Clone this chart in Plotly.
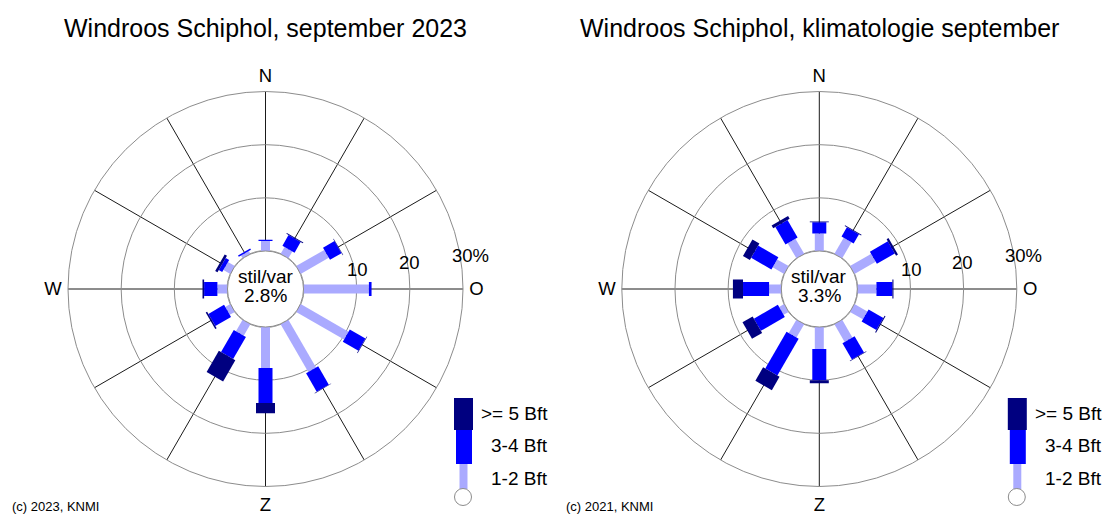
import plotly.graph_objects as go

# ---------------- data ----------------
directions = [0, 30, 60, 90, 120, 150, 180, 210, 240, 270, 300, 330]
compass_labels = ["N", "", "", "O", "", "", "Z", "", "", "W", "", ""]
ring_values = [0, 10, 20, 30]
ring_labels = ["10", "20", "30%"]

# september 2023 (percent of time)
sep2023_bft12 = [1.9, 1.5, 6.1, 12.3, 10.4, 10.4, 7.7, 2.5, 1.1, 1.9, 1.5, 0.6]
sep2023_bft34 = [0.2, 2.3, 2.5, 0.5, 3.4, 4.0, 6.6, 4.8, 3.4, 2.5, 0.75, 0.3]
sep2023_bft5 = [0.0, 0.2, 0.1, 0.0, 0.1, 0.1, 1.9, 4.6, 0.3, 0.3, 0.5, 0.0]
sep2023_calm = 2.8

# climatology september
clim_bft12 = [3.3, 3.5, 4.6, 3.6, 2.8, 3.85, 4.15, 2.9, 1.1, 2.3, 2.5, 3.3]
clim_bft34 = [2.1, 2.0, 3.9, 3.0, 3.2, 3.55, 5.85, 8.0, 5.2, 4.9, 4.4, 3.8]
clim_bft5 = [0.15, 0.15, 0.4, 0.2, 0.2, 0.1, 0.6, 2.9, 2.2, 1.9, 1.5, 0.6]
clim_calm = 3.3

titles = ["Windroos Schiphol, september 2023", "Windroos Schiphol, klimatologie september"]
copyrights = ["(c) 2023, KNMI", "(c) 2021, KNMI"]
class_labels = [">= 5 Bft", "3-4 Bft", "1-2 Bft"]

# ---------------- style ----------------
W, H = 1108, 514
FONT = "Liberation Sans, Arial, Helvetica, sans-serif"
C_LIGHT = "#aaaaff"
C_BLUE = "#0000ff"
C_NAVY = "#000080"
WIDTHS = [9, 14, 19]
RING_COLOR = "#8c8c8c"
SPOKE_COLOR = "#1a1a1a"
CX = [265.5, 819.3]
CY = 289
R = 197.5
INNER = 38
RING_LABEL_OFFSETS = [(92, -19.5), (143.5, -26.5), (204.5, -33.3)]


def px(x):
    return x / W


def py(y):
    return 1 - y / H


def segments(vals, bases):
    r, th = [], []
    for d, v, b in zip(directions, vals, bases):
        if v <= 0:
            continue
        r += [b, b + v, None]
        th += [d, d, None]
    return r, th


fig = go.Figure()
datasets = [
    (sep2023_bft12, sep2023_bft34, sep2023_bft5, sep2023_calm),
    (clim_bft12, clim_bft34, clim_bft5, clim_calm),
]

annotations = []
shapes = []
for i, (b12, b34, b5, calm) in enumerate(datasets):
    sub = "polar" if i == 0 else "polar2"
    base0 = [0.0] * len(directions)
    base1 = [a for a in b12]
    base2 = [a + b for a, b in zip(b12, b34)]
    # inner (stil/var) circle
    circ_th = list(range(0, 361, 2))
    fig.add_trace(go.Scatterpolar(r=[0.08] * len(circ_th), theta=circ_th, mode="lines",
                                  line=dict(color=RING_COLOR, width=1), subplot=sub,
                                  hoverinfo="skip", showlegend=False))
    for vals, bases, col, w in [(b12, base0, C_LIGHT, WIDTHS[0]),
                                (b34, base1, C_BLUE, WIDTHS[1]),
                                (b5, base2, C_NAVY, WIDTHS[2])]:
        r, th = segments(vals, bases)
        fig.add_trace(go.Scatterpolar(r=r, theta=th, mode="lines",
                                      line=dict(color=col, width=w),
                                      subplot=sub, showlegend=False, connectgaps=False))

    cx = CX[i]
    off = cx - CX[0]
    # ring labels
    for lab, (dx, dy) in zip(ring_labels, RING_LABEL_OFFSETS):
        annotations.append(dict(text=lab, x=px(cx + dx), y=py(CY + dy), xref="paper", yref="paper",
                                showarrow=False, xanchor="center", yanchor="middle",
                                font=dict(size=18.5, color="black", family=FONT)))
    # titles
    annotations.append(dict(text=titles[i], x=px(cx), y=py(28), xref="paper", yref="paper",
                            showarrow=False, xanchor="center", yanchor="middle",
                            font=dict(size=25, color="black", family=FONT)))
    # center text
    annotations.append(dict(text="stil/var", x=px(cx), y=py(276.5), xref="paper", yref="paper",
                            showarrow=False, xanchor="center", yanchor="middle",
                            font=dict(size=19, color="black", family=FONT)))
    annotations.append(dict(text=f"{calm}%", x=px(cx), y=py(295.5), xref="paper", yref="paper",
                            showarrow=False, xanchor="center", yanchor="middle",
                            font=dict(size=19, color="black", family=FONT)))
    # copyright
    annotations.append(dict(text=copyrights[i], x=px(10 + off), y=py(506), xref="paper", yref="paper",
                            showarrow=False, xanchor="left", yanchor="middle",
                            font=dict(size=13, color="black", family=FONT)))
    # legend
    for lab, yy in zip(class_labels, [413.5, 445, 478.5]):
        annotations.append(dict(text=lab, x=px(550 + off), y=py(yy), xref="paper", yref="paper",
                                showarrow=False, xanchor="right", yanchor="middle",
                                font=dict(size=19, color="black", family=FONT)))
    for (x0, x1, y0, y1, col) in [(454, 473, 398, 430, C_NAVY), (456, 472, 430, 464, C_BLUE),
                                  (459.5, 467.5, 464, 489, C_LIGHT)]:
        shapes.append(dict(type="rect", xref="paper", yref="paper", x0=px(x0 + off), x1=px(x1 + off),
                           y0=py(y1), y1=py(y0), fillcolor=col, line=dict(width=0)))
    shapes.append(dict(type="circle", xref="paper", yref="paper", x0=px(454.5 + off), x1=px(471.5 + off),
                       y0=py(505.5), y1=py(488.5), fillcolor="white", line=dict(color=RING_COLOR, width=1)))


def polar_layout(cx):
    return dict(
        domain=dict(x=[px(cx - R), px(cx + R)], y=[py(CY + R), py(CY - R)]),
        hole=INNER / R,
        bgcolor="white",
        angularaxis=dict(rotation=90, direction="clockwise", tickmode="array",
                         tickvals=directions, ticktext=compass_labels,
                         showgrid=True, gridcolor=SPOKE_COLOR, gridwidth=1,
                         showline=True, linecolor=RING_COLOR, linewidth=1,
                         ticks="outside", ticklen=2, tickcolor="rgba(0,0,0,0)",
                         tickfont=dict(size=18.5, color="black", family=FONT)),
        radialaxis=dict(range=[0, 30], tickmode="array", tickvals=ring_values,
                        showticklabels=False, showline=False, ticks="",
                        showgrid=True, gridcolor=RING_COLOR, gridwidth=1),
    )


fig.update_layout(
    width=W, height=H,
    margin=dict(l=0, r=0, t=0, b=0),
    paper_bgcolor="white", plot_bgcolor="white",
    polar=polar_layout(CX[0]),
    polar2=polar_layout(CX[1]),
    annotations=annotations,
    shapes=shapes,
    showlegend=False,
    font=dict(family=FONT),
)

fig.write_html("out.html", config={"displayModeBar": False},
               post_script="document.body.style.margin='0';document.body.style.overflow='hidden';")
